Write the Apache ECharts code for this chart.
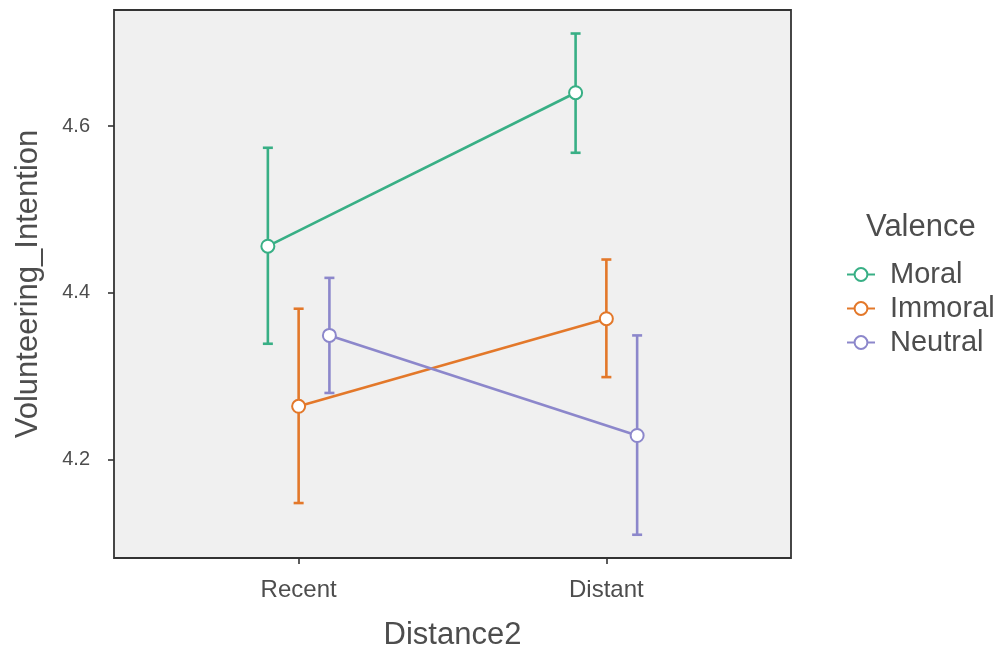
<!DOCTYPE html>
<html>
<head>
<meta charset="utf-8">
<script src="https://cdn.jsdelivr.net/npm/echarts@6/dist/echarts.min.js"></script>
<style>html,body{margin:0;padding:0;background:#fff}#c{width:1008px;height:651px}</style>
</head>
<body>
<div id="c"></div>
<script>
const categories = ['Recent', 'Distant'];
const groups = ['Moral', 'Immoral', 'Neutral'];
const moralMean = [4.456, 4.640];
const moralLower = [4.339, 4.568];
const moralUpper = [4.574, 4.711];
const immoralMean = [4.264, 4.369];
const immoralLower = [4.148, 4.299];
const immoralUpper = [4.381, 4.440];
const neutralMean = [4.349, 4.229];
const neutralLower = [4.280, 4.110];
const neutralUpper = [4.418, 4.349];
const yTicks = [4.2, 4.4, 4.6];

const FONT = '"Liberation Sans", Arial, sans-serif';
const colors = ['#38AF85', '#E3782A', '#8C87CB'];
const dodge = [-0.1, 0, 0.1];
const means = [moralMean, immoralMean, neutralMean];
const lowers = [moralLower, immoralLower, neutralLower];
const uppers = [moralUpper, immoralUpper, neutralUpper];

const series = [];
groups.forEach((g, gi) => {
  series.push({
    name: g + '_err',
    type: 'custom',
    z: 2,
    silent: true,
    data: categories.map((c, ci) => [ci + 1 + dodge[gi], lowers[gi][ci], uppers[gi][ci]]),
    encode: { x: 0, y: [1, 2] },
    renderItem: function (params, api) {
      const x = api.value(0);
      const lo = api.coord([x, api.value(1)]);
      const hi = api.coord([x, api.value(2)]);
      const cap = 5;
      const style = { stroke: colors[gi], lineWidth: 2.6 };
      return {
        type: 'group',
        children: [
          { type: 'line', shape: { x1: lo[0], y1: lo[1], x2: hi[0], y2: hi[1] }, style: style },
          { type: 'line', shape: { x1: lo[0] - cap, y1: lo[1], x2: lo[0] + cap, y2: lo[1] }, style: style },
          { type: 'line', shape: { x1: hi[0] - cap, y1: hi[1], x2: hi[0] + cap, y2: hi[1] }, style: style }
        ]
      };
    }
  });
});
groups.forEach((g, gi) => {
  series.push({
    name: g,
    type: 'line',
    z: 3,
    data: categories.map((c, ci) => [ci + 1 + dodge[gi], means[gi][ci]]),
    symbol: 'circle',
    symbolSize: 13,
    showAllSymbol: true,
    lineStyle: { color: colors[gi], width: 2.6 },
    itemStyle: { color: '#ffffff', borderColor: colors[gi], borderWidth: 2 },
    emphasis: { disabled: true }
  });
});

const chart = echarts.init(document.getElementById('c'), null, { renderer: 'canvas' });
chart.setOption({
  animation: false,
  backgroundColor: '#ffffff',
  grid: {
    left: 114, right: 217, top: 10, bottom: 93,
    show: true, backgroundColor: '#F0F0F0', borderColor: '#333333', borderWidth: 1.8,
    containLabel: false,
    outerBoundsMode: 'none'
  },
  xAxis: {
    type: 'value', min: 0.4, max: 2.6,
    axisLine: { show: false },
    splitLine: { show: false },
    axisTick: { show: true, customValues: [1, 2], length: 6, lineStyle: { color: '#333333', width: 1.6 } },
    axisLabel: {
      customValues: [1, 2], margin: 20, fontSize: 24, color: '#4D4D4D', fontFamily: FONT,
      formatter: v => categories[Math.round(v) - 1]
    },
    name: 'Distance2', nameLocation: 'middle', nameGap: 62,
    nameTextStyle: { fontSize: 31, color: '#4D4D4D', fontFamily: FONT, verticalAlign: 'top' }
  },
  yAxis: {
    type: 'value', min: 4.0821, max: 4.7392,
    axisLine: { show: false },
    splitLine: { show: false },
    axisTick: { show: true, customValues: yTicks, length: 6, lineStyle: { color: '#333333', width: 1.6 } },
    axisLabel: {
      customValues: yTicks, margin: 24, fontSize: 20, color: '#4D4D4D', fontFamily: FONT,
      formatter: v => v.toFixed(1)
    },
    name: 'Volunteering_Intention', nameLocation: 'middle', nameGap: 70,
    nameTextStyle: { fontSize: 31, color: '#4D4D4D', fontFamily: FONT }
  },
  legend: {
    data: groups,
    orient: 'vertical',
    left: 841, top: 255,
    itemWidth: 28, itemHeight: 16, itemGap: 5,
    selectedMode: false,
    textStyle: { fontSize: 29, color: '#4D4D4D', fontFamily: FONT, padding: [0, 0, 0, 10] }
  },
  graphic: [{
    type: 'text', left: 866, top: 212,
    style: { text: 'Valence', fontSize: 31, fill: '#4D4D4D', fontFamily: FONT }
  }],
  series: series
});
</script>
</body>
</html>
